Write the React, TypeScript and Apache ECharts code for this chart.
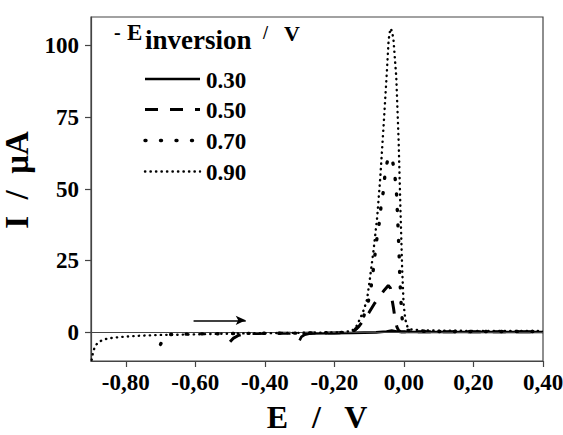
import React, { useEffect, useRef } from "react";
import * as echarts from "echarts";

// ---- data (E / V, I / µA) ----
const xTickValues = [-0.8, -0.6, -0.4, -0.2, 0, 0.2, 0.4];
const yTickValues = [0, 25, 50, 75, 100];
const seriesNames = ["0.30", "0.50", "0.70", "0.90"];

const curve030 = [
  [-0.30, -2.8], [-0.295, -1.6], [-0.285, -0.8], [-0.27, -0.4], [-0.22, -0.3], [-0.15, -0.2],
  [-0.08, 0], [-0.05, 0.3], [-0.035, 0.6], [-0.025, 0.4], [-0.01, 0.1], [0.05, 0.1], [0.2, 0.1], [0.4, 0.1],
];

const curve050 = [
  [-0.50, -3.3], [-0.49, -2], [-0.475, -1], [-0.46, -0.5], [-0.42, -0.4], [-0.36, -0.3], [-0.28, -0.3],
  [-0.2, -0.2], [-0.16, -0.1], [-0.145, 0.3], [-0.13, 2], [-0.115, 4.5], [-0.1, 7], [-0.085, 10],
  [-0.07, 12.5], [-0.056, 14.8], [-0.045, 16.3], [-0.039, 15.5], [-0.035, 12], [-0.03, 8.5],
  [-0.025, 4.2], [-0.02, 1.8], [-0.015, 0.6], [-0.008, 0.2], [0.1, 0.2], [0.25, 0.2], [0.4, 0.2],
];

const curve070 = [
  [-0.70, -4.2], [-0.69, -1.5], [-0.677, -0.8], [-0.62, -0.6], [-0.55, -0.5], [-0.48, -0.4],
  [-0.4, -0.3], [-0.32, -0.3], [-0.24, -0.2], [-0.17, 0], [-0.145, 0.6], [-0.13, 2], [-0.116, 5.5],
  [-0.106, 9], [-0.097, 13.7], [-0.092, 18], [-0.087, 23], [-0.082, 28.5], [-0.077, 33.5],
  [-0.07, 39], [-0.065, 45], [-0.058, 50], [-0.054, 56], [-0.047, 60], [-0.04, 61.5], [-0.033, 60],
  [-0.027, 56], [-0.021, 48], [-0.017, 37], [-0.014, 28], [-0.012, 20], [-0.009, 12], [-0.006, 6],
  [-0.003, 2.5], [0.004, 0.8], [0.03, 0.4], [0.1, 0.3], [0.2, 0.3], [0.3, 0.3], [0.4, 0.3],
];

const curve090 = [
  [-0.898, -9.6], [-0.895, -7.5], [-0.891, -5.8], [-0.885, -4.3], [-0.877, -3.3], [-0.865, -2.6],
  [-0.85, -2.1], [-0.83, -1.8], [-0.8, -1.5], [-0.76, -1.2], [-0.7, -0.9], [-0.64, -0.8],
  [-0.56, -0.6], [-0.48, -0.4], [-0.4, -0.3], [-0.32, -0.2], [-0.24, -0.1], [-0.18, 0],
  [-0.15, 0.5], [-0.137, 2], [-0.125, 5], [-0.115, 8], [-0.106, 11.5], [-0.097, 19.5],
  [-0.087, 29], [-0.077, 40], [-0.068, 54], [-0.058, 73], [-0.049, 91], [-0.044, 102],
  [-0.039, 106], [-0.034, 105], [-0.03, 102], [-0.022, 89], [-0.015, 66], [-0.01, 43],
  [-0.005, 22], [-0.001, 10], [0.004, 4.5], [0.01, 2], [0.02, 1], [0.05, 0.7], [0.1, 0.6],
  [0.2, 0.5], [0.3, 0.5], [0.4, 0.5],
];

const arrowStart = [-0.605, 4.2];
const arrowEnd = [-0.455, 4.2];

// ---- styles ----
const FONT = "'Liberation Serif', Tinos, 'Times New Roman', serif";
const lineStyles = [
  { width: 2.6, type: "solid" as any, cap: "butt" },
  { width: 3, type: [13, 12] as any, cap: "butt" },
  { width: 3.4, type: [1, 14.5] as any, cap: "round" },
  { width: 2.4, type: [0.3, 5.2] as any, cap: "round" },
];
const curves = [curve030, curve050, curve070, curve090];

export default function App() {
  const ref = useRef<HTMLDivElement>(null);

  useEffect(() => {
    if (!ref.current) return;
    const chart = echarts.init(ref.current, null, { renderer: "svg" });

    const legendY = [79, 109.5, 140.5, 171.5];
    const legendGraphics: any[] = [];
    seriesNames.forEach((name, i) => {
      const ls = lineStyles[i];
      legendGraphics.push({
        type: "line",
        silent: true,
        shape: { x1: 145, y1: legendY[i], x2: 200, y2: legendY[i] },
        style: {
          stroke: "#000",
          lineWidth: ls.width,
          lineDash: Array.isArray(ls.type) ? ls.type : null,
          lineCap: ls.cap,
        },
      });
      legendGraphics.push({
        type: "text",
        silent: true,
        x: 206,
        y: legendY[i] + 1,
        style: { text: name, fill: "#000", fontFamily: FONT, fontWeight: "bold", fontSize: 23, verticalAlign: "middle" },
      });
    });

    const t = (text: string, x: number, y: number, size: number) => ({
      type: "text",
      silent: true,
      x,
      y,
      style: { text, fill: "#000", fontFamily: FONT, fontWeight: "bold", fontSize: size, verticalAlign: "middle" },
    });
    const titleGraphics = [
      t("-", 114, 32, 20),
      t("E", 127, 32, 23),
      t("inversion", 145, 40, 27),
      t("/", 263, 33, 18),
      t("V", 284, 33, 22),
    ];

    const series: any[] = curves.map((data, i) => ({
      name: seriesNames[i],
      type: "line",
      data,
      showSymbol: false,
      symbol: "none",
      smooth: false,
      silent: true,
      z: 3 + i,
      lineStyle: { color: "#000", width: lineStyles[i].width, type: lineStyles[i].type, cap: lineStyles[i].cap },
    }));

    // zero reference line + scan-direction arrow
    series[0].markLine = {
      silent: true,
      animation: false,
      symbol: ["none", "none"],
      label: { show: false },
      lineStyle: { color: "#444", width: 1, type: "solid" },
      data: [{ yAxis: 0 }],
    };
    series[1].markLine = {
      silent: true,
      animation: false,
      symbol: ["none", "arrow"],
      symbolSize: [7, 10],
      label: { show: false },
      lineStyle: { color: "#000", width: 1.6, type: "solid" },
      data: [[{ coord: arrowStart }, { coord: arrowEnd }]],
    };

    chart.setOption({
      animation: false,
      backgroundColor: "#fff",
      textStyle: { fontFamily: FONT },
      grid: {
        left: 91,
        right: 20,
        top: 17,
        bottom: 74,
        containLabel: false,
        outerBoundsMode: "none",
        show: true,
        borderColor: "#444",
        borderWidth: 1.2,
        backgroundColor: "transparent",
      },
      xAxis: {
        type: "value",
        min: -0.9,
        max: 0.4,
        name: "E   /   V",
        nameLocation: "middle",
        nameGap: 40,
        nameTextStyle: { color: "#000", fontFamily: FONT, fontWeight: "bold", fontSize: 32 },
        axisLine: { show: true, onZero: false, lineStyle: { color: "#444", width: 1.2 } },
        axisTick: { show: true, inside: false, length: 6, customValues: xTickValues, lineStyle: { color: "#444", width: 1.2 } },
        axisLabel: {
          show: true,
          customValues: xTickValues,
          margin: 10,
          color: "#000",
          fontFamily: FONT,
          fontWeight: "bold",
          fontSize: 23,
          formatter: (v: number) => v.toFixed(2).replace(".", ","),
        },
        splitLine: { show: false },
      },
      yAxis: {
        type: "value",
        min: -10,
        max: 110,
        name: "I  /  μA",
        nameLocation: "middle",
        nameGap: 41,
        nameRotate: 90,
        nameTextStyle: { color: "#000", fontFamily: FONT, fontWeight: "bold", fontSize: 33, padding: [0, 0, 0, 18] },
        axisLine: { show: true, onZero: false, lineStyle: { color: "#444", width: 1.2 } },
        axisTick: { show: true, inside: false, length: 6, customValues: yTickValues, lineStyle: { color: "#444", width: 1.2 } },
        axisLabel: {
          show: true,
          customValues: yTickValues,
          margin: 12,
          color: "#000",
          fontFamily: FONT,
          fontWeight: "bold",
          fontSize: 23,
        },
        splitLine: { show: false },
      },
      graphic: [...titleGraphics, ...legendGraphics],
      series,
    });

    return () => chart.dispose();
  }, []);

  return (
    <div
      ref={ref}
      style={{ position: "fixed", left: 0, top: 0, width: 563, height: 435, background: "#fff" }}
    />
  );
}
